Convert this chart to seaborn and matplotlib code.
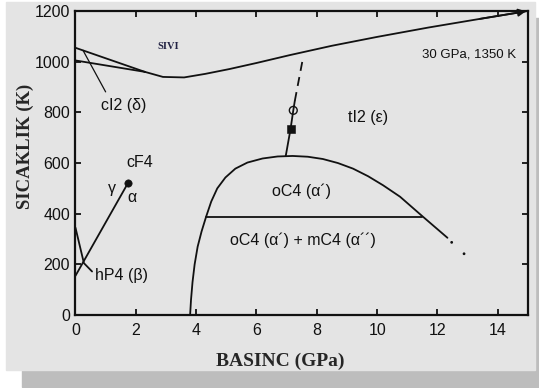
import matplotlib
matplotlib.use("Agg")
import matplotlib.pyplot as plt
import pandas as pd
import seaborn as sns
from matplotlib.patches import Rectangle

# liquidus (SIVI boundary), ends with an arrow towards 30 GPa, 1350 K
melt_p = [2.3, 2.9, 3.6, 4.3, 5.1, 6.0, 7.1, 8.5, 10.0, 11.7, 13.4, 14.93]
melt_t = [960, 940, 938, 952, 971, 995, 1026, 1063, 1098, 1135, 1169, 1199]

# delta (cI2) field edges
delta_up_p = [0.0, 2.3]
delta_up_t = [1055, 960]
delta_low_p = [0.0, 2.3]
delta_low_t = [1005, 960]
delta_leader_p = [0.25, 1.0]
delta_leader_t = [1045, 881]

# gamma / alpha line and beta field
ga_p = [0.0, 1.75]
ga_t = [155, 523]
beta_p = [0.0, 0.28, 0.55]
beta_t = [345, 205, 172]

# oC4 dome
dome_p = [3.8, 3.83, 3.88, 3.95, 4.05, 4.18, 4.33, 4.5, 4.7, 4.97, 5.3, 5.7,
          6.2, 6.7, 7.2, 7.7, 8.2, 8.7, 9.2, 9.7, 10.2, 10.76, 11.5, 12.33]
dome_t = [0, 60, 130, 200, 270, 330, 388, 448, 500, 543, 578, 602,
          618, 626, 628, 625, 616, 600, 578, 548, 512, 467, 390, 305]
mc4_p = [4.33, 11.5]
mc4_t = [388, 388]
dome_dots_p = [12.47, 12.88]
dome_dots_t = [287, 242]

# alpha' / epsilon boundary
eps_solid_p = [6.97, 7.13, 7.22, 7.27]
eps_solid_t = [628, 735, 808, 845]
eps_dash_p = [7.27, 7.55]
eps_dash_t = [845, 1020]
open_pt = ([7.22], [808])
square_pt = ([7.13], [735])
triple_pt = ([1.75], [523])

sns.set_theme(style="ticks")
plt.rcParams["font.family"] = ["Liberation Sans", "DejaVu Sans"]

fig = plt.figure(figsize=(5.39, 3.88), dpi=100)
fig.patch.set_facecolor("white")
fig.add_artist(Rectangle((0.041, 0.0026), 0.959, 0.951, transform=fig.transFigure,
                         color="#bdbdbd", zorder=-2))
fig.add_artist(Rectangle((0.011, 0.046), 0.981, 0.948, transform=fig.transFigure,
                         color="#e4e4e4", zorder=-1))
ax = fig.add_axes([0.140, 0.188, 0.8396, 0.7835])
ax.set_facecolor("none")

line_kw = dict(color="#111111", lw=1.3, sort=False, estimator=None, ax=ax, legend=False)
for xs, ys in [(melt_p, melt_t), (delta_up_p, delta_up_t), (delta_low_p, delta_low_t),
               (ga_p, ga_t), (beta_p, beta_t), (dome_p, dome_t), (mc4_p, mc4_t),
               (eps_solid_p, eps_solid_t)]:
    sns.lineplot(x=xs, y=ys, **line_kw)
sns.lineplot(x=delta_leader_p, y=delta_leader_t, color="#111111", lw=0.9,
             sort=False, estimator=None, ax=ax)
sns.lineplot(x=eps_dash_p, y=eps_dash_t, color="#111111", lw=1.3, sort=False,
             estimator=None, ax=ax, dashes=False, linestyle=(0, (5, 3.5)))

ax.annotate("", xy=(melt_p[-1], melt_t[-1]), xytext=(melt_p[-2], melt_t[-2]),
            arrowprops=dict(arrowstyle="-|>", color="#111111", lw=1.3,
                            mutation_scale=11, shrinkA=0, shrinkB=0))

sns.scatterplot(x=dome_dots_p, y=dome_dots_t, color="#111111", s=4, edgecolor="none", ax=ax)
sns.scatterplot(x=triple_pt[0], y=triple_pt[1], color="#111111", s=28, edgecolor="#111111", ax=ax)
sns.scatterplot(x=square_pt[0], y=square_pt[1], marker="s", color="#111111", s=28,
                edgecolor="#111111", ax=ax, zorder=3)
sns.scatterplot(x=open_pt[0], y=open_pt[1], marker="o", color="none", s=32,
                edgecolor="#111111", linewidth=1.0, ax=ax, zorder=3)

ax.set_xlim(0, 15)
ax.set_ylim(0, 1200)
ax.set_xticks(range(0, 15, 2))
ax.set_yticks(range(0, 1201, 200))
ax.tick_params(direction="in", top=True, right=True, length=4, width=1.3,
               labelsize=11.5, colors="#111111")
ax.tick_params(axis="x", pad=6)
ax.tick_params(axis="y", pad=4)
for s in ax.spines.values():
    s.set_linewidth(1.6)
    s.set_color("#111111")

serif = ["Liberation Serif", "DejaVu Serif"]
ax.set_xlabel("BASINC (GPa)", family=serif, fontweight="bold", fontsize=14)
ax.set_ylabel("SICAKLIK (K)", family=serif, fontweight="bold", fontsize=13.5)
ax.xaxis.set_label_coords(0.452, -0.123)
ax.yaxis.set_label_coords(-0.092, 0.556)

lab = dict(ha="center", va="center", fontsize=11.5, color="#111111")
ax.text(3.07, 1062, "SIVI", family=serif, fontweight="bold", fontsize=7.5,
        ha="center", va="center", color="#222244")
ax.text(13.05, 1030, "30 GPa, 1350 K", ha="center", va="center", fontsize=9.5, color="#111111")
ax.text(1.61, 829, "cI2 (δ)", **lab)
ax.text(2.14, 604, "cF4", **lab)
ax.text(1.2, 501, "γ", **lab)
ax.text(1.86, 466, "α", **lab)
ax.text(1.53, 158, "hP4 (β)", **lab)
ax.text(9.71, 778, "tI2 (ε)", **lab)
ax.text(7.5, 487, "oC4 (α´)", **lab)
ax.text(7.55, 296, "oC4 (α´) + mC4 (α´´)", **lab)

fig.savefig("out.png", dpi=100)
